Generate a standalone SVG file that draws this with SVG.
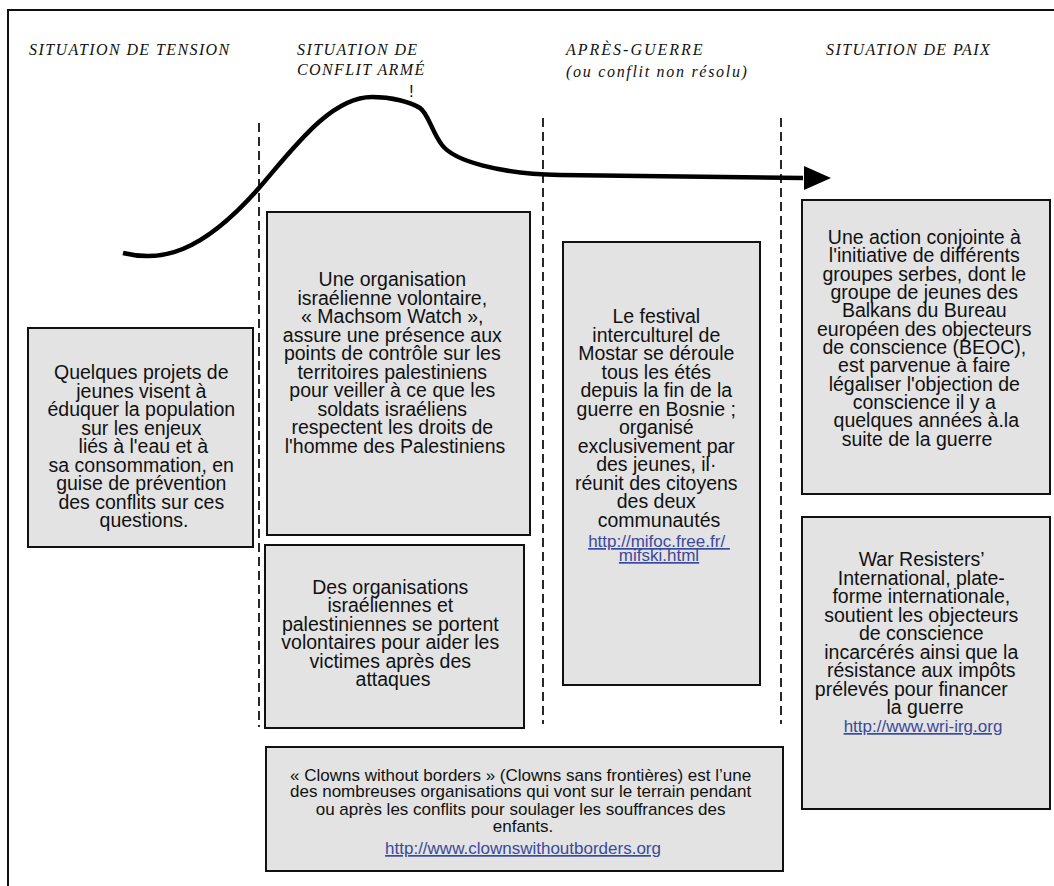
<svg xmlns="http://www.w3.org/2000/svg" width="1054" height="886" viewBox="0 0 1054 886">
<defs>
<style>
.hdr{font-family:"Liberation Serif","Times New Roman",serif;font-style:italic;font-size:16px;fill:#111;letter-spacing:1.4px}
.box{fill:#e3e3e3;stroke:#111;stroke-width:2}
.t{font-family:"Liberation Sans",Arial,sans-serif;font-size:19.5px;fill:#111;text-anchor:middle}
.s{font-family:"Liberation Sans",Arial,sans-serif;font-size:17px;fill:#111;text-anchor:middle}
.lk{font-family:"Liberation Sans",Arial,sans-serif;font-size:17px;fill:#3a4a9c;text-anchor:middle;text-decoration:underline}
.dash{stroke:#111;stroke-width:1.8;stroke-dasharray:9 5;fill:none}
</style>
</defs>
<rect width="1054" height="886" fill="#fff"/>
<g id="frame" fill="none" stroke="#111" stroke-width="2">
<path d="M8,886 V10 H1054"/>
</g>
<g id="headers">
<text class="hdr" x="29" y="55">SITUATION DE TENSION</text>
<text class="hdr" x="297" y="55">SITUATION DE</text>
<text class="hdr" x="297" y="75">CONFLIT ARMÉ</text>
<text class="hdr" x="566" y="55" style="letter-spacing:2px">APRÈS-GUERRE</text>
<text class="hdr" x="566" y="77" style="letter-spacing:1.7px">(ou conflit non résolu)</text>
<text class="hdr" x="826" y="55">SITUATION DE PAIX</text>
<text x="409" y="97" style="font-family:'Liberation Sans',Arial,sans-serif;font-size:17px;fill:#111">!</text>
</g>
<g id="connectors">
<line class="dash" x1="259" y1="123" x2="259" y2="727"/>
<line class="dash" x1="543" y1="118" x2="543" y2="724"/>
<line class="dash" x1="781" y1="118" x2="781" y2="724"/>
<path d="M123,253 C160,262 200,255 259,188 C292,150 330,97 372,97 C392,97 410,102 420,108 C428,113 432,132 442,145 C454,161 500,174 560,175 L803,178" fill="none" stroke="#000" stroke-width="4.5"/>
<polygon points="804,166 831,178 804,190" fill="#000"/>
</g>
<g id="node-tension">
<rect class="box" x="28" y="328" width="225" height="219"/>
<text class="t">
<tspan x="144" y="379">Quelques projets de</tspan>
<tspan x="144" y="397.5">jeunes visent à</tspan>
<tspan x="144" y="416">éduquer la population</tspan>
<tspan x="144" y="434.5">sur les enjeux</tspan>
<tspan x="146" y="453">liés à l'eau et à</tspan>
<tspan x="144" y="471.5">sa consommation, en</tspan>
<tspan x="144" y="490">guise de prévention</tspan>
<tspan x="144" y="508.5">des conflits sur ces</tspan>
<tspan x="144" y="527">questions.</tspan>
</text>
</g>
<g id="node-machsom">
<rect class="box" x="267" y="212" width="263" height="323"/>
<text class="t">
<tspan x="395" y="286">Une organisation</tspan>
<tspan x="395" y="304.5">israélienne volontaire,</tspan>
<tspan x="395" y="323">« Machsom Watch »,</tspan>
<tspan x="395" y="341.5">assure une présence aux</tspan>
<tspan x="395" y="360">points de contrôle sur les</tspan>
<tspan x="395" y="378.5">territoires palestiniens</tspan>
<tspan x="395" y="397">pour veiller à ce que les</tspan>
<tspan x="395" y="415.5">soldats israéliens</tspan>
<tspan x="395" y="434">respectent les droits de</tspan>
<tspan x="395" y="452.5">l'homme des Palestiniens</tspan>
</text>
</g>
<g id="node-victimes">
<rect class="box" x="265" y="545" width="259" height="183"/>
<text class="t">
<tspan x="393" y="593.5">Des organisations</tspan>
<tspan x="393" y="612">israéliennes et</tspan>
<tspan x="393" y="630.5">palestiniennes se portent</tspan>
<tspan x="393" y="649">volontaires pour aider les</tspan>
<tspan x="393" y="667.5">victimes après des</tspan>
<tspan x="393" y="686">attaques</tspan>
</text>
</g>
<g id="node-mostar">
<rect class="box" x="563" y="242" width="197" height="443"/>
<text class="t">
<tspan x="659" y="323">Le festival</tspan>
<tspan x="659" y="341.5">interculturel de</tspan>
<tspan x="659" y="360">Mostar se déroule</tspan>
<tspan x="659" y="378.5">tous les étés</tspan>
<tspan x="659" y="397">depuis la fin de la</tspan>
<tspan x="659" y="415.5">guerre en Bosnie ;</tspan>
<tspan x="659" y="434">organisé</tspan>
<tspan x="659" y="452.5">exclusivement par</tspan>
<tspan x="659" y="471">des jeunes, il·</tspan>
<tspan x="659" y="489.5">réunit des citoyens</tspan>
<tspan x="659" y="508">des deux</tspan>
<tspan x="659" y="526.5">communautés</tspan>
</text>
<text class="lk">
<tspan x="659" y="547">http://mifoc.free.fr/</tspan>
<tspan x="659" y="561">mifski.html</tspan>
</text>
</g>
<g id="node-beoc">
<rect class="box" x="802" y="200" width="248" height="294"/>
<text class="t">
<tspan x="927" y="244">Une action conjointe à</tspan>
<tspan x="927" y="262.3">l'initiative de différents</tspan>
<tspan x="927" y="280.6">groupes serbes, dont le</tspan>
<tspan x="927" y="299">groupe de jeunes des</tspan>
<tspan x="927" y="317.3">Balkans du Bureau</tspan>
<tspan x="927" y="335.6">européen des objecteurs</tspan>
<tspan x="927" y="354">de conscience (BEOC),</tspan>
<tspan x="927" y="372.3">est parvenue à faire</tspan>
<tspan x="927" y="390.6">légaliser l'objection de</tspan>
<tspan x="927" y="409">conscience il y a</tspan>
<tspan x="929" y="427.3">quelques années à.la</tspan>
<tspan x="917" y="445.6">suite de la guerre</tspan>
</text>
</g>
<g id="node-wri">
<rect class="box" x="802" y="517" width="248" height="292"/>
<text class="t">
<tspan x="924" y="566">War Resisters’</tspan>
<tspan x="924" y="584.5">International, plate-</tspan>
<tspan x="924" y="603">forme internationale,</tspan>
<tspan x="924" y="621.5">soutient les objecteurs</tspan>
<tspan x="924" y="640">de conscience</tspan>
<tspan x="924" y="658.5">incarcérés ainsi que la</tspan>
<tspan x="924" y="677">résistance aux impôts</tspan>
<tspan x="914" y="695.5">prélevés pour financer</tspan>
<tspan x="925" y="714">la guerre</tspan>
</text>
<text class="lk" x="923" y="732">http://www.wri-irg.org</text>
</g>
<g id="node-clowns">
<rect class="box" x="266" y="747" width="517" height="124"/>
<text class="s">
<tspan x="523" y="781">« Clowns without borders » (Clowns sans frontières) est l’une</tspan>
<tspan x="523" y="797">des nombreuses organisations qui vont sur le terrain pendant</tspan>
<tspan x="523" y="815">ou après les conflits pour soulager les souffrances des</tspan>
<tspan x="523" y="832">enfants.</tspan>
</text>
<text class="lk" x="523" y="854">http://www.clownswithoutborders.org</text>
</g>
</svg>
